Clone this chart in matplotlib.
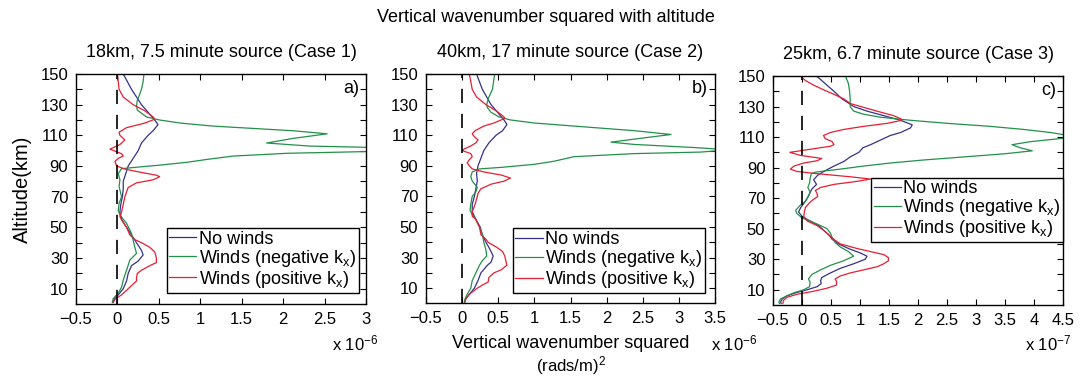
import numpy as np
import matplotlib.pyplot as plt

plt.rcParams['font.family'] = ['Liberation Sans', 'DejaVu Sans']
plt.rcParams['mathtext.default'] = 'regular'

# ---- данные: высота (км) и квадрат вертикального волнового числа ----
# панель a (x 1e-6)
a_blue_alt = [150, 140, 130, 125, 120, 117, 113, 110, 105, 100, 95, 90, 85, 80, 75, 70, 65, 60, 55, 50,
              45, 40, 35, 32, 28, 25, 20, 15, 10, 6, 3, 1]
a_blue = [0.07, 0.17, 0.29, 0.37, 0.45, 0.49, 0.43, 0.37, 0.29, 0.25, 0.19, 0.13, 0.10, 0.07, 0.07, 0.06,
          0.04, 0.03, 0.05, 0.11, 0.17, 0.23, 0.29, 0.31, 0.25, 0.17, 0.13, 0.11, 0.07, 0.01, -0.04, -0.06]
a_green_alt = [150, 145, 140, 137, 133, 129, 126.5, 122, 120, 118, 116, 113, 111, 108, 105, 103, 102.2,
               100.8, 99.4, 98.3, 96.5, 94.3, 92.5, 90.5, 89.6, 88.3, 85, 81, 76.5, 70, 65.7, 61, 58,
               52.6, 46, 37, 33, 28.7, 22, 15.6, 11, 7, 3.7, 1.5]
a_green = [0.32, 0.31, 0.29, 0.27, 0.24, 0.23, 0.24, 0.35, 0.51, 0.76, 1.16, 2.12, 2.53, 2.12, 1.80, 2.32,
           3.0, 3.2, 3.0, 2.05, 1.40, 1.08, 0.85, 0.50, 0.31, 0.05, 0.01, 0.03, 0.02, 0.05, 0.02, 0.01,
           0.03, 0.11, 0.17, 0.21, 0.23, 0.15, 0.11, 0.07, 0.05, 0.01, -0.05, -0.06]
a_red_alt = [150, 140, 135, 130, 126, 122, 120.5, 118, 115, 112, 110, 107, 104, 101, 98, 96.5, 95, 93, 90,
             88, 86, 84, 83, 81, 79, 76, 73, 70, 65, 60, 57, 55, 50, 45, 42, 40, 37, 34, 30, 27, 25, 22,
             20, 17, 15, 12, 10, 6, 3, 1]
a_red = [0.0, 0.02, 0.07, 0.19, 0.33, 0.43, 0.45, 0.33, 0.11, 0.02, 0.03, 0.09, 0.03, -0.09, 0.05, 0.07,
         0.01, -0.03, -0.01, 0.09, 0.27, 0.47, 0.51, 0.43, 0.23, 0.13, 0.11, 0.09, 0.07, 0.05, 0.03, 0.05,
         0.11, 0.15, 0.21, 0.29, 0.39, 0.45, 0.47, 0.47, 0.39, 0.29, 0.24, 0.23, 0.23, 0.17, 0.13, 0.05,
         -0.03, -0.05]

# панель b (x 1e-6)
b_blue_alt = [150, 140, 130, 125, 120, 117, 113, 110, 105, 100, 95, 90, 85, 80, 75, 70, 65, 60, 55, 50,
              45, 40, 35, 31, 27, 25, 20, 15, 10, 6, 3, 1]
b_blue = [0.20, 0.28, 0.40, 0.49, 0.58, 0.62, 0.56, 0.47, 0.37, 0.30, 0.26, 0.22, 0.20, 0.21, 0.19, 0.17,
          0.14, 0.14, 0.19, 0.25, 0.28, 0.33, 0.39, 0.43, 0.40, 0.35, 0.26, 0.22, 0.17, 0.10, 0.05, 0.04]
b_green_alt = [150, 140, 135, 130, 128, 125, 122, 120, 118, 116, 113, 110.5, 108, 105.5, 104, 102, 100.5,
               99, 98, 96, 93, 91, 89, 88, 86, 83, 80, 76, 73, 70, 65, 61, 58, 55, 50, 45, 40, 35, 31,
               28, 25, 20, 15, 10, 6, 3, 1]
b_green = [0.45, 0.42, 0.37, 0.34, 0.35, 0.40, 0.51, 0.67, 1.00, 1.55, 2.38, 2.89, 2.47, 2.06, 2.38, 3.2,
           3.7, 3.3, 2.38, 1.55, 1.27, 1.00, 0.54, 0.24, 0.14, 0.12, 0.14, 0.21, 0.19, 0.14, 0.12, 0.11,
           0.14, 0.19, 0.24, 0.28, 0.30, 0.33, 0.34, 0.28, 0.24, 0.19, 0.14, 0.12, 0.07, 0.04, 0.03]
b_red_alt = [150, 140, 135, 130, 126, 122, 121, 118, 116, 113, 111, 109, 107, 105, 103, 101, 100, 98, 96,
             94, 92, 90, 88, 86, 84, 82, 80, 78, 75, 72, 70, 65, 60, 57, 55, 50, 45, 42, 40, 37, 34, 31,
             25, 22, 20, 17, 14, 12, 10, 6, 3, 1]
b_red = [0.10, 0.14, 0.20, 0.33, 0.47, 0.58, 0.59, 0.44, 0.30, 0.18, 0.14, 0.17, 0.22, 0.19, 0.12, 0.03,
         0.00, 0.12, 0.14, 0.10, 0.07, 0.10, 0.14, 0.30, 0.54, 0.67, 0.58, 0.40, 0.26, 0.22, 0.21, 0.18,
         0.14, 0.14, 0.19, 0.24, 0.26, 0.33, 0.36, 0.47, 0.56, 0.59, 0.62, 0.54, 0.44, 0.37, 0.36, 0.28,
         0.21, 0.10, 0.05, 0.04]

# панель c (x 1e-7)
c_blue_alt = [150, 145, 140, 135, 130, 127, 124, 121, 118, 116, 113, 111, 108, 105, 103, 100, 97, 94, 91,
              88, 85, 82, 79, 76, 73, 70, 67, 64, 61, 58, 55, 52, 49, 46, 43, 40, 37, 34, 32, 30, 27, 24,
              21, 18, 16, 14, 12, 10, 8, 6, 4, 2, 1]
c_blue = [0.25, 0.40, 0.55, 0.69, 0.89, 1.12, 1.41, 1.70, 1.90, 1.87, 1.70, 1.52, 1.35, 1.18, 1.05, 0.98,
          0.83, 0.72, 0.55, 0.40, 0.27, 0.20, 0.25, 0.17, 0.13, 0.09, 0.04, -0.02, -0.06, 0.00, 0.14,
          0.29, 0.37, 0.46, 0.52, 0.63, 0.80, 1.01, 1.12, 1.09, 0.89, 0.66, 0.49, 0.34, 0.32, 0.33, 0.26,
          0.09, -0.11, -0.26, -0.34, -0.37, -0.36]
c_green_alt = [150, 145, 140, 135, 130, 127, 125, 123, 121, 119, 117, 115, 113, 111, 109.5, 109, 107, 105,
               103, 101, 99, 97, 95, 93, 91, 89, 88, 87, 86, 83, 80, 77, 74, 71, 68, 65, 62, 60, 57, 55,
               52, 50, 47, 44, 41, 38, 35, 32, 29, 26, 23, 20, 17, 15, 12, 10, 8, 6, 4, 2, 1]
c_green = [0.75, 0.80, 0.82, 0.83, 0.83, 0.89, 1.06, 1.35, 1.87, 2.50, 3.25, 3.82, 4.28, 4.6, 4.55, 4.45,
           3.94, 3.62, 3.76, 3.97, 3.48, 2.79, 2.10, 1.52, 1.06, 0.66, 0.43, 0.23, 0.16, 0.14, 0.13, 0.10,
           0.14, 0.11, 0.06, -0.04, -0.11, -0.09, 0.00, 0.14, 0.32, 0.43, 0.49, 0.52, 0.57, 0.66, 0.80,
           0.89, 0.72, 0.49, 0.32, 0.17, 0.11, 0.14, 0.13, 0.03, -0.14, -0.26, -0.37, -0.40, -0.39]
c_red_alt = [150, 147, 144, 141, 138, 135, 132, 130, 127, 124, 122, 121, 119, 117, 115, 113, 111, 109, 107,
             105, 104, 102, 100, 98, 96, 94.5, 93, 91, 89, 87.5, 86, 84, 82.5, 81, 79, 77, 75, 73, 71, 69,
             67, 64, 61, 58, 55, 52, 49, 46, 43, 40, 37, 35, 33, 31, 29, 27, 25, 23, 21, 19, 17, 15, 13,
             11, 9, 7, 5, 3, 1]
c_red = [-0.03, 0.06, 0.20, 0.37, 0.55, 0.72, 0.83, 1.01, 1.29, 1.58, 1.70, 1.72, 1.47, 1.06, 0.72, 0.49,
         0.37, 0.40, 0.52, 0.55, 0.49, 0.14, -0.21, -0.03, 0.34, 0.26, 0.03, -0.14, -0.20, -0.09, 0.26,
         0.83, 1.18, 0.95, 0.55, 0.32, 0.23, 0.26, 0.27, 0.19, 0.13, 0.06, 0.04, 0.03, 0.09, 0.26, 0.37,
         0.46, 0.55, 0.66, 0.95, 1.18, 1.41, 1.49, 1.49, 1.41, 1.29, 1.06, 0.83, 0.66, 0.57, 0.60, 0.59,
         0.43, 0.20, -0.09, -0.26, -0.32, -0.33]

titles = ['18km, 7.5 minute source (Case 1)', '40km, 17 minute source (Case 2)',
          '25km, 6.7 minute source (Case 3)']
letters = ['a)', 'b)', 'c)']
xmax = [3, 3.5, 4.5]
exps = ['-6', '-6', '-7']
labels = ['No winds', 'Winds (negative k$_{x}$)', 'Winds (positive k$_{x}$)']

blue_col = '#35318a'
green_col = '#23904a'
red_col = '#e61e32'

panels = [
    (a_blue_alt, a_blue, a_green_alt, a_green, a_red_alt, a_red),
    (b_blue_alt, b_blue, b_green_alt, b_green, b_red_alt, b_red),
    (c_blue_alt, c_blue, c_green_alt, c_green, c_red_alt, c_red),
]
positions = [[0.0696, 0.1936, 0.2656, 0.6101],
             [0.3901, 0.1950, 0.2647, 0.6085],
             [0.7079, 0.1910, 0.2656, 0.6074]]
leg_anchor = [(0.975, 0.05), (0.965, 0.047), (1.0, 0.275)]
offset_x = [0.304, 0.651, 0.9386]

fig = plt.figure(figsize=(10.92, 3.77), dpi=100)
fig.text(0.5, 0.953, 'Vertical wavenumber squared with altitude', ha='center', va='center', fontsize=13)

for i in range(3):
    ax = fig.add_axes(positions[i])
    ba, bv, ga, gv, ra, rv = panels[i]
    ax.plot(bv, ba, color=blue_col, lw=0.9, label=labels[0])
    ax.plot(gv, ga, color=green_col, lw=0.9, label=labels[1])
    ax.plot(rv, ra, color=red_col, lw=0.9, label=labels[2])
    ax.axvline(0, color='black', lw=1.2, ls=(0, (8.5, 6.5)))
    ax.set_xlim(-0.5, xmax[i])
    ax.set_ylim(0, 150)
    xt = np.arange(-0.5, xmax[i] + 0.01, 0.5)
    ax.set_xticks(xt)
    ax.set_xticklabels([('%g' % t).replace('-', '\u2212') for t in xt])
    yt = np.arange(10, 151, 10)
    ax.set_yticks(yt)
    ax.set_yticklabels([str(t) if t % 20 == 10 else '' for t in yt])
    ax.tick_params(direction='in', top=True, right=True, length=4, labelsize=12, pad=5.5)
    for s in ax.spines.values():
        s.set_linewidth(1.0)
    ax.set_title(titles[i], fontsize=13, pad=12)
    ax.text(0.975, 0.975, letters[i], transform=ax.transAxes, ha='right', va='top', fontsize=13)
    fig.text(offset_x[i], 0.09, 'x 10$^{%s}$' % exps[i], ha='left', va='center', fontsize=12)
    leg = ax.legend(loc='lower right', bbox_to_anchor=leg_anchor[i], fontsize=13, frameon=True,
                    fancybox=False, framealpha=1, edgecolor='black', handlelength=1.5,
                    handletextpad=0.15, labelspacing=0.0, borderpad=0.15, borderaxespad=0)
    leg.get_frame().set_linewidth(1.0)
    if i == 0:
        ax.set_ylabel('Altitude(km)', fontsize=14.5, labelpad=6)

fig.text(0.523, 0.09, 'Vertical wavenumber squared', ha='center', va='center', fontsize=13)
fig.text(0.523, 0.03, '(rads/m)$^2$', ha='center', va='center', fontsize=12)

fig.savefig('out.png', dpi=100)
